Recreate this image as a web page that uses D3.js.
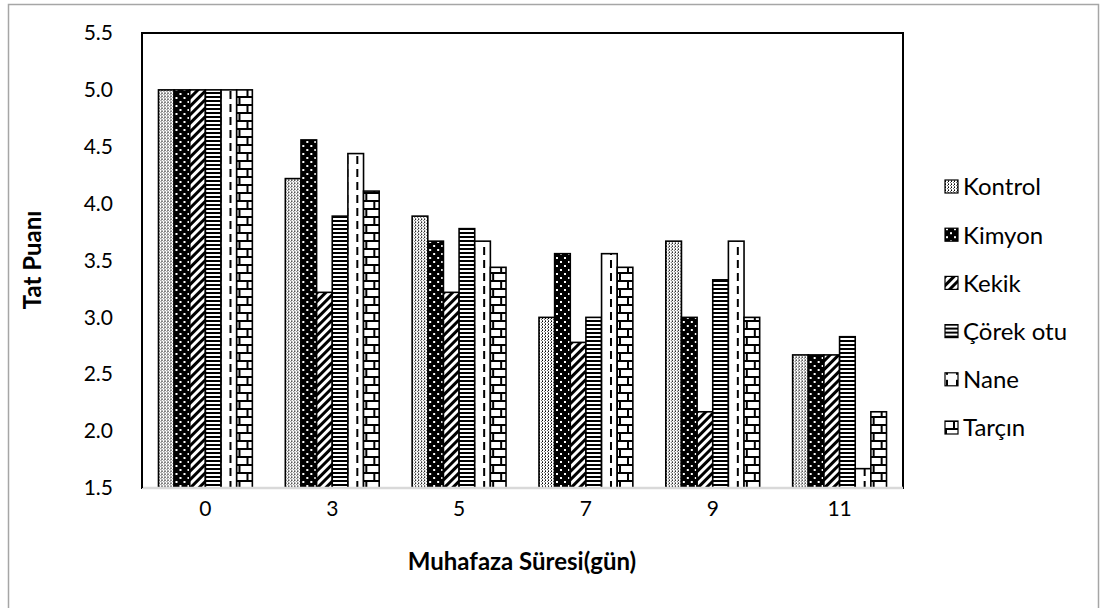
<!DOCTYPE html>
<html><head><meta charset="utf-8">
<script src="https://cdn.jsdelivr.net/npm/d3@7"></script>
<style>body{margin:0;background:#fff}svg{display:block}</style>
</head><body>
<script>
const categories = ["0","3","5","7","9","11"];
const seriesNames = ["Kontrol","Kimyon","Kekik","Çörek otu","Nane","Tarçın"];
const kontrol = [5.0, 4.22, 3.89, 3.0, 3.67, 2.67];
const kimyon  = [5.0, 4.56, 3.67, 3.56, 3.0, 2.67];
const kekik   = [5.0, 3.22, 3.22, 2.78, 2.17, 2.67];
const corek   = [5.0, 3.89, 3.78, 3.0, 3.33, 2.83];
const nane    = [5.0, 4.44, 3.67, 3.56, 3.67, 1.67];
const tarcin  = [5.0, 4.11, 3.44, 3.44, 3.0, 2.17];
const yTicks = [1.5, 2.0, 2.5, 3.0, 3.5, 4.0, 4.5, 5.0, 5.5];
const xTitle = "Muhafaza Süresi(gün)";
const yTitle = "Tat Puanı";

const seriesValues = [kontrol, kimyon, kekik, corek, nane, tarcin];
const patIds = ["pKontrol","pKimyon","pKekik","pCorek","pNane","pTarcin"];

const W = 1101, H = 608;
const plot = {left: 142, right: 903, top: 33, bottom: 488};
const FONT = "Lato, 'Open Sans', sans-serif";

const svg = d3.select("body").append("svg").attr("width", W).attr("height", H);
const defs = svg.append("defs");

function pat(id, w, h, extra) {
  const p = defs.append("pattern").attr("id", id).attr("patternUnits","userSpaceOnUse")
    .attr("width", w).attr("height", h);
  if (extra) p.attr("patternTransform", extra);
  return p;
}
// Kontrol: fine dotted grid
{
  const p = pat("pKontrol", 3, 3);
  p.append("rect").attr("width",3).attr("height",3).attr("fill","#fff");
  p.append("rect").attr("x",0).attr("y",0).attr("width",1).attr("height",1).attr("fill","#000");
  p.append("rect").attr("x",0).attr("y",2).attr("width",1).attr("height",1).attr("fill","#000").attr("opacity",0.6);
  p.append("rect").attr("x",2).attr("y",1).attr("width",1).attr("height",1).attr("fill","#000").attr("opacity",0.6);
}
// Kimyon: black with white dots
{
  const p = pat("pKimyon", 8, 8);
  p.append("rect").attr("width",8).attr("height",8).attr("fill","#000");
  p.append("rect").attr("x",1).attr("y",1).attr("width",2).attr("height",2).attr("fill","#fff");
  p.append("rect").attr("x",5).attr("y",5).attr("width",2).attr("height",2).attr("fill","#fff");
}
// Kekik: wide upward diagonal
{
  const p = pat("pKekik", 6, 6, "rotate(45)");
  p.append("rect").attr("width",6).attr("height",6).attr("fill","#fff");
  p.append("rect").attr("width",3).attr("height",6).attr("fill","#000");
}
// Çörek otu: horizontal lines
{
  const p = pat("pCorek", 4, 4);
  p.append("rect").attr("width",4).attr("height",4).attr("fill","#fff");
  p.append("rect").attr("y",0).attr("width",4).attr("height",2).attr("fill","#000");
}
// Nane: dashed vertical
{
  const p = pat("pNane", 10, 13);
  p.append("rect").attr("width",10).attr("height",13).attr("fill","#fff");
  p.append("rect").attr("x",1).attr("y",0).attr("width",2).attr("height",8).attr("fill","#000");
}
// Tarçın: horizontal brick
{
  const p = pat("pTarcin", 16, 16);
  p.append("rect").attr("width",16).attr("height",16).attr("fill","#fff");
  p.append("rect").attr("y",0).attr("width",16).attr("height",2).attr("fill","#000");
  p.append("rect").attr("y",8).attr("width",16).attr("height",2).attr("fill","#000");
  p.append("rect").attr("x",0).attr("y",0).attr("width",2).attr("height",8).attr("fill","#000");
  p.append("rect").attr("x",8).attr("y",8).attr("width",2).attr("height",8).attr("fill","#000");
}

// Outer chart border
svg.append("rect").attr("x",8.5).attr("y",4.5).attr("width",1090).attr("height",610)
  .attr("fill","none").attr("stroke","#a6a6a6").attr("stroke-width",1.5);

// Scales
const x0 = d3.scaleBand().domain(categories).range([plot.left, plot.right])
  .paddingInner(0.26).paddingOuter(0.13);
const x1 = d3.scaleBand().domain(seriesNames).range([0, x0.bandwidth()]);
const y = d3.scaleLinear().domain([1.5, 5.5]).range([plot.bottom, plot.top]);

// Plot frame
svg.append("rect").attr("x",plot.left).attr("y",plot.top)
  .attr("width",plot.right-plot.left).attr("height",plot.bottom-plot.top)
  .attr("fill","none").attr("stroke","#000").attr("stroke-width",2);

// Bars
const groups = svg.append("g").selectAll("g").data(categories).join("g")
  .attr("transform", d => `translate(${x0(d)},0)`);
groups.selectAll("rect")
  .data((c, ci) => seriesNames.map((s, si) => ({s, si, v: seriesValues[si][ci]})))
  .join("rect")
  .attr("x", d => x1(d.s))
  .attr("y", d => y(d.v))
  .attr("width", x1.bandwidth())
  .attr("height", d => y(1.5) - y(d.v))
  .attr("fill", d => `url(#${patIds[d.si]})`)
  .attr("stroke","#000").attr("stroke-width",1.6);

// Bottom axis line (grey)
svg.append("line").attr("x1",plot.left).attr("x2",plot.right)
  .attr("y1",plot.bottom).attr("y2",plot.bottom)
  .attr("stroke","#d9d9d9").attr("stroke-width",2.5);
// Left axis line
svg.append("line").attr("x1",plot.left).attr("x2",plot.left)
  .attr("y1",plot.top).attr("y2",plot.bottom)
  .attr("stroke","#000").attr("stroke-width",2);

// Y axis
const yAxis = d3.axisLeft(y).tickValues(yTicks).tickFormat(d3.format(".1f")).tickSize(0).tickPadding(29);
const gy = svg.append("g").attr("transform",`translate(${plot.left},0)`).call(yAxis);
gy.select(".domain").remove();
gy.selectAll("text").attr("font-family",FONT).attr("font-size",21).attr("fill","#000");

// X axis
const xAxis = d3.axisBottom(x0).tickSize(0).tickPadding(13);
const gx = svg.append("g").attr("transform",`translate(0,${plot.bottom})`).call(xAxis);
gx.select(".domain").remove();
gx.selectAll("text").attr("font-family",FONT).attr("font-size",21).attr("fill","#000");

// Titles
svg.append("text").attr("x", 522).attr("y", 570).attr("text-anchor","middle")
  .attr("font-family",FONT).attr("font-weight","bold").attr("font-size",24).text(xTitle);
svg.append("text").attr("transform","translate(41,260) rotate(-90)").attr("text-anchor","middle")
  .attr("font-family",FONT).attr("font-weight","bold").attr("font-size",24).text(yTitle);

// Legend
const leg = svg.append("g").selectAll("g").data(seriesNames).join("g")
  .attr("transform",(d,i)=>`translate(945,${187 + i*48.2})`);
leg.append("rect").attr("x",0).attr("y",-7).attr("width",13).attr("height",13)
  .attr("fill",(d,i)=>`url(#${patIds[i]})`).attr("stroke","#000").attr("stroke-width",1.2);
leg.append("text").attr("x",18).attr("y",0).attr("dy","0.35em")
  .attr("font-family",FONT).attr("font-size",24).attr("fill","#000").text(d=>d);
</script>
</body></html>
